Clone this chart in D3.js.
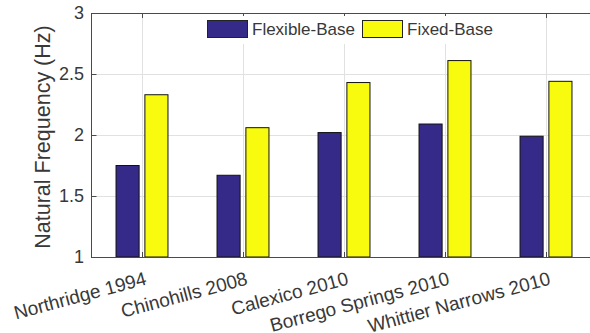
<!DOCTYPE html>
<html>
<head>
<meta charset="utf-8">
<script src="https://cdn.jsdelivr.net/npm/d3@7/dist/d3.min.js"></script>
<style>
  html, body { margin: 0; padding: 0; background: #fff; }
  svg { display: block; font-family: "Liberation Sans", Arial, Helvetica, sans-serif; }
</style>
</head>
<body>
<svg id="chart" width="590" height="333"></svg>
<script>
// Earthquake records and natural frequencies (Hz)
const categories = ["Northridge 1994", "Chinohills 2008", "Calexico 2010", "Borrego Springs 2010", "Whittier Narrows 2010"];
const flexibleBase = [1.75, 1.67, 2.02, 2.09, 1.99];
const fixedBase = [2.33, 2.06, 2.43, 2.61, 2.44];
const seriesNames = ["Flexible-Base", "Fixed-Base"];
const seriesColors = ["#352a87", "#f9fb0e"];
const yTicks = [1, 1.5, 2, 2.5, 3];
const yTickLabels = ["1", "1.5", "2", "2.5", "3"];

const series = [flexibleBase, fixedBase];
const svg = d3.select("#chart");

const plotLeft = 91.5, plotRight = 596.5, plotTop = 13, plotBottom = 257;
// Category positions 1..n on a numeric axis, as in a grouped bar plot
const x = d3.scaleLinear().domain([0.5, categories.length + 0.5]).range([plotLeft, plotRight]);
const y = d3.scaleLinear().domain([1, 3]).range([plotBottom, plotTop]);

const groupWidth = Math.min(0.8, series.length / (series.length + 1.5));
const barWidth = 0.8 * groupWidth / series.length;
const offsetOf = i => -groupWidth / 2 + (i + 0.5) * groupWidth / series.length;

const axisColor = "#4a4a4a";
const textColor = "#383838";
const gridColor = "#e1e1e1";

// Grid lines
const grid = svg.append("g");
grid.selectAll("line.h").data(yTicks.slice(1, -1)).join("line")
  .attr("x1", plotLeft).attr("x2", plotRight)
  .attr("y1", d => Math.round(y(d)) + 0.5).attr("y2", d => Math.round(y(d)) + 0.5)
  .attr("stroke", gridColor).attr("stroke-width", 1);
grid.selectAll("line.v").data(categories).join("line")
  .attr("x1", (d, i) => Math.round(x(i + 1)) + 0.5).attr("x2", (d, i) => Math.round(x(i + 1)) + 0.5)
  .attr("y1", plotTop).attr("y2", plotBottom)
  .attr("stroke", gridColor).attr("stroke-width", 1);

// Bars
series.forEach((vals, s) => {
  svg.append("g").selectAll("rect").data(vals).join("rect")
    .attr("x", (d, i) => x(i + 1 + offsetOf(s) - barWidth / 2))
    .attr("width", x(barWidth) - x(0))
    .attr("y", d => y(d))
    .attr("height", d => y(1) - y(d))
    .attr("fill", seriesColors[s])
    .attr("stroke", "#111")
    .attr("stroke-width", 1);
});

// Axes: bottom / top lines with inward ticks, left line
const axes = svg.append("g").attr("stroke", axisColor).attr("stroke-width", 1).attr("fill", "none");
axes.append("line").attr("x1", plotLeft).attr("x2", plotRight).attr("y1", plotBottom + 0.5).attr("y2", plotBottom + 0.5);
axes.append("line").attr("x1", plotLeft).attr("x2", plotRight).attr("y1", plotTop + 0.5).attr("y2", plotTop + 0.5);
axes.append("line").attr("x1", plotLeft).attr("x2", plotLeft).attr("y1", plotTop).attr("y2", plotBottom + 1);
categories.forEach((c, i) => {
  const xi = Math.round(x(i + 1)) + 0.5;
  axes.append("line").attr("x1", xi).attr("x2", xi).attr("y1", plotBottom).attr("y2", plotBottom - 5);
  axes.append("line").attr("x1", xi).attr("x2", xi).attr("y1", plotTop).attr("y2", plotTop + 5);
});
yTicks.forEach(t => {
  const yi = Math.round(y(t)) + 0.5;
  axes.append("line").attr("x1", plotLeft).attr("x2", plotLeft + 5).attr("y1", yi).attr("y2", yi);
});

// Y tick labels
svg.append("g").selectAll("text").data(yTicks).join("text")
  .attr("x", 84).attr("y", d => y(d))
  .attr("dy", "0.35em")
  .attr("text-anchor", "end")
  .attr("font-size", 18)
  .attr("fill", textColor)
  .text((d, i) => yTickLabels[i]);

// X tick labels, rotated 15 degrees
svg.append("g").selectAll("text").data(categories).join("text")
  .attr("transform", (d, i) => `translate(${x(i + 1) + 2},${271}) rotate(-15)`)
  .attr("dy", "0.72em")
  .attr("text-anchor", "end")
  .attr("font-size", 19)
  .attr("fill", textColor)
  .text(d => d);

// Y axis title
svg.append("text")
  .attr("transform", `translate(50,137) rotate(-90)`)
  .attr("text-anchor", "middle")
  .attr("font-size", 21.5)
  .attr("fill", textColor)
  .text("Natural Frequency (Hz)");

// Legend (white background, no border)
const legend = svg.append("g");
legend.append("rect").attr("x", 200).attr("y", 16).attr("width", 300).attr("height", 28).attr("fill", "#fff");
const legendItems = [
  { sw: 207, tx: 252 },
  { sw: 362, tx: 407 }
];
legendItems.forEach((it, s) => {
  legend.append("rect")
    .attr("x", it.sw + 0.5).attr("y", 20.5).attr("width", 40).attr("height", 17)
    .attr("fill", seriesColors[s]).attr("stroke", "#222").attr("stroke-width", 1);
  legend.append("text")
    .attr("x", it.tx).attr("y", 29.5).attr("dy", "0.35em")
    .attr("font-size", 17).attr("fill", textColor)
    .text(seriesNames[s]);
});
</script>
</body>
</html>
